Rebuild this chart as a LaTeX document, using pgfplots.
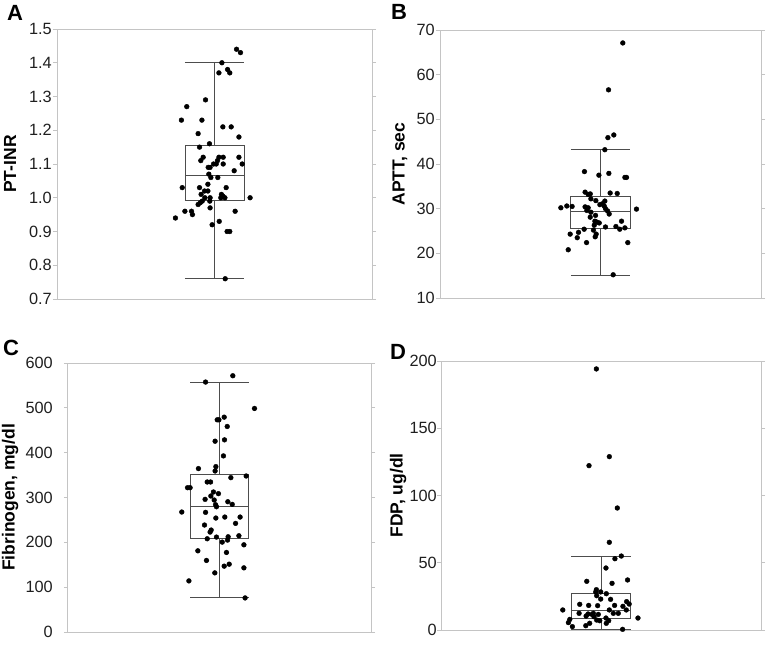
\documentclass[border=0pt]{standalone}
\usepackage{fontspec}
\setmainfont{Liberation Sans}
\usepackage{pgfplots}
\pgfplotsset{compat=1.18}
\definecolor{framegray}{HTML}{C4C4C4}
\definecolor{boxgray}{HTML}{4D4D4D}
\pgfplotsset{
  panel/.style={
    anchor=south west, scale only axis,
    xmin=0, xmax=2, xtick=\empty,
    axis line style={framegray, line width=1pt},
    major tick length=4pt, tick align=outside,
    ytick style={framegray, line width=1pt},
    tick label style={font=\fontsize{16.3}{18}\selectfont, text=black!88},
    /pgf/number format/assume math mode=true,
    ylabel style={font=\bfseries\fontsize{17.5}{19}\selectfont, anchor=center},
    clip=false,
  },
  dots/.style={only marks, mark=*, mark size=2.4pt, black},
  bx/.style={draw=boxgray, line width=0.9pt, solid, mark=none},
}
% box: #1 half width, #2 lw, #3 q1, #4 med, #5 q3, #6 uw
\newcommand{\drawbox}[6]{%
  \addplot[bx] coordinates {(1-#1,#3) (1+#1,#3) (1+#1,#5) (1-#1,#5) (1-#1,#3)};
  \addplot[bx] coordinates {(1-#1,#4) (1+#1,#4)};
  \addplot[bx] coordinates {(1,#5) (1,#6)};
  \addplot[bx] coordinates {(1,#3) (1,#2)};
  \addplot[bx] coordinates {(1-#1,#6) (1+#1,#6)};
  \addplot[bx] coordinates {(1-#1,#2) (1+#1,#2)};
}
\begin{document}
\begin{tikzpicture}
\useasboundingbox (0,0) rectangle (767pt,646pt);
% ---------------- A
\begin{axis}[panel, at={(57pt,347pt)}, width=315pt, height=270pt,
  ymin=0.7, ymax=1.5, ytick={0.7,0.8,...,1.5},
  yticklabel style={/pgf/number format/.cd, fixed, fixed zerofill, precision=1, /tikz/.cd, anchor=east, inner sep=0pt, xshift=-1pt},
  ylabel={PT-INR},
  ylabel style={at={(axis description cs:-0.149,0.5)}}]
\drawbox{0.1875}{0.761}{0.993}{1.067}{1.156}{1.40}
\addplot[dots] table {
x y
1.140 1.44
1.165 1.43
1.047 1.40
1.028 1.37
1.083 1.38
1.097 1.37
0.943 1.29
0.824 1.27
0.790 1.23
0.920 1.23
1.053 1.21
1.106 1.21
0.896 1.19
1.155 1.18
0.905 1.15
0.968 1.16
0.928 1.12
0.913 1.11
1.028 1.12
1.055 1.12
1.155 1.12
1.176 1.10
1.055 1.10
1.019 1.11
1.011 1.10
0.994 1.10
0.972 1.09
0.960 1.09
1.125 1.08
0.964 1.07
0.977 1.06
1.021 1.06
0.795 1.03
0.905 1.03
0.958 1.04
1.074 1.03
0.937 1.02
0.958 1.02
0.915 1.01
1.044 1.01
1.053 1.005
0.972 1.00
0.939 1.00
1.040 1.00
1.066 1.00
1.226 1.00
0.922 0.99
0.909 0.985
0.896 0.98
0.970 0.99
0.972 0.97
0.812 0.96
0.854 0.96
0.860 0.95
0.752 0.94
1.131 0.96
0.985 0.92
1.030 0.93
1.080 0.90
1.097 0.90
1.068 0.76
};
\end{axis}
% ---------------- B
\begin{axis}[panel, at={(440pt,348pt)}, width=321pt, height=268pt,
  ymin=10, ymax=70, ytick={10,20,...,70},
  yticklabel style={anchor=east, inner sep=0pt, xshift=-1pt},
  ylabel={APTT, sec},
  ylabel style={at={(axis description cs:-0.125,0.5)}}]
\drawbox{0.185}{15.1}{25.5}{29.3}{32.7}{43.2}
\addplot[dots] table {
x y
1.139 67.1
1.050 56.6
1.046 45.9
1.083 46.5
1.027 43.2
0.900 38.3
0.990 37.5
1.052 37.9
1.152 37.0
1.162 37.0
0.904 33.7
0.923 33.2
0.936 33.3
0.940 32.2
0.971 31.8
1.027 31.7
1.060 33.5
1.104 33.4
0.753 30.2
0.790 30.6
0.823 30.5
0.904 30.4
0.923 30.2
0.915 29.6
0.940 29.2
0.996 30.9
1.012 31.1
1.023 30.6
1.031 30.0
1.044 29.5
1.054 28.8
1.224 29.9
0.936 28.1
0.969 28.5
0.965 27.2
0.977 27.0
0.992 26.8
0.961 26.3
1.031 25.9
1.096 26.0
1.131 27.2
1.120 25.4
1.152 25.7
0.898 25.4
0.956 25.2
0.863 24.7
0.811 24.3
0.855 23.5
0.973 24.3
0.967 23.7
0.913 22.4
1.170 22.4
0.799 20.8
1.079 15.2
};
\end{axis}
% ---------------- C
\begin{axis}[panel, at={(68pt,14pt)}, width=303pt, height=269pt,
  ymin=0, ymax=600, ytick={0,100,...,600},
  yticklabel style={anchor=east, inner sep=0pt, xshift=-11pt},
  ylabel={Fibrinogen, mg/dl},
  ylabel style={at={(axis description cs:-0.191,0.5)}}]
\drawbox{0.1915}{76}{208}{281}{351}{557.5}
\addplot[dots] table {
x y
1.088 571.6
0.908 557.5
1.231 498.6
1.031 479.2
0.985 473.3
0.996 473.3
1.051 458.4
0.971 425.6
1.033 428.6
1.026 392.8
0.861 364.5
0.976 368.9
0.971 359.2
1.075 344.3
1.176 348.0
0.789 321.9
0.806 321.9
0.919 334.6
0.941 334.6
0.960 312.3
0.993 308.6
0.943 303.3
0.905 295.9
0.965 294.4
0.974 283.9
0.980 279.4
1.055 290.6
1.084 284.7
0.751 267.6
0.908 266.9
0.976 254.2
1.035 256.4
1.136 256.4
1.106 242.3
0.901 238.6
0.945 227.4
0.938 222.9
0.919 208.0
0.980 211.7
1.057 212.4
1.053 205.0
1.128 214.7
1.018 200.5
1.161 194.5
0.857 181.1
1.046 177.4
0.914 159.6
1.031 146.9
1.064 151.3
1.161 143.1
0.969 131.9
0.798 114.0
1.169 76.0
};
\end{axis}
% ---------------- D
\begin{axis}[panel, at={(441pt,16pt)}, width=320pt, height=269pt,
  ymin=0, ymax=200, ytick={0,50,...,200},
  yticklabel style={anchor=east, inner sep=0pt, xshift=0pt},
  ylabel={FDP, ug/dl},
  ylabel style={at={(axis description cs:-0.134,0.5)}}]
\drawbox{0.187}{0.4}{8.4}{14.4}{27.3}{54.8}
\addplot[dots] table {
x y
0.971 194.1
1.052 128.9
0.925 122.2
1.102 90.7
1.052 65.2
1.127 55.0
1.087 53.0
1.031 46.1
0.911 36.2
1.166 37.2
1.069 34.7
0.971 30.0
0.967 28.3
0.998 28.3
1.033 27.0
0.973 25.5
0.998 23.0
1.060 22.8
1.160 21.1
1.176 19.3
0.867 19.1
0.923 18.3
0.979 18.1
1.085 18.3
1.137 17.6
0.761 14.9
1.158 14.9
1.052 14.9
0.863 12.4
0.919 11.9
0.944 11.6
0.983 11.6
1.077 12.4
1.108 12.4
0.907 10.4
0.956 9.9
1.031 8.9
1.231 8.9
0.805 7.9
0.973 7.4
0.992 6.9
1.048 6.9
0.796 5.5
0.929 5.0
1.033 5.0
0.905 3.2
0.821 2.5
1.135 0.5
0.952 12.4
};
\end{axis}
% panel letters
\node[font=\bfseries\fontsize{22}{24}\selectfont] at (15pt,633pt) {A};
\node[font=\bfseries\fontsize{22}{24}\selectfont] at (399pt,634pt) {B};
\node[font=\bfseries\fontsize{22}{24}\selectfont] at (11pt,298pt) {C};
\node[font=\bfseries\fontsize{22}{24}\selectfont] at (398pt,294pt) {D};
\end{tikzpicture}
\end{document}
